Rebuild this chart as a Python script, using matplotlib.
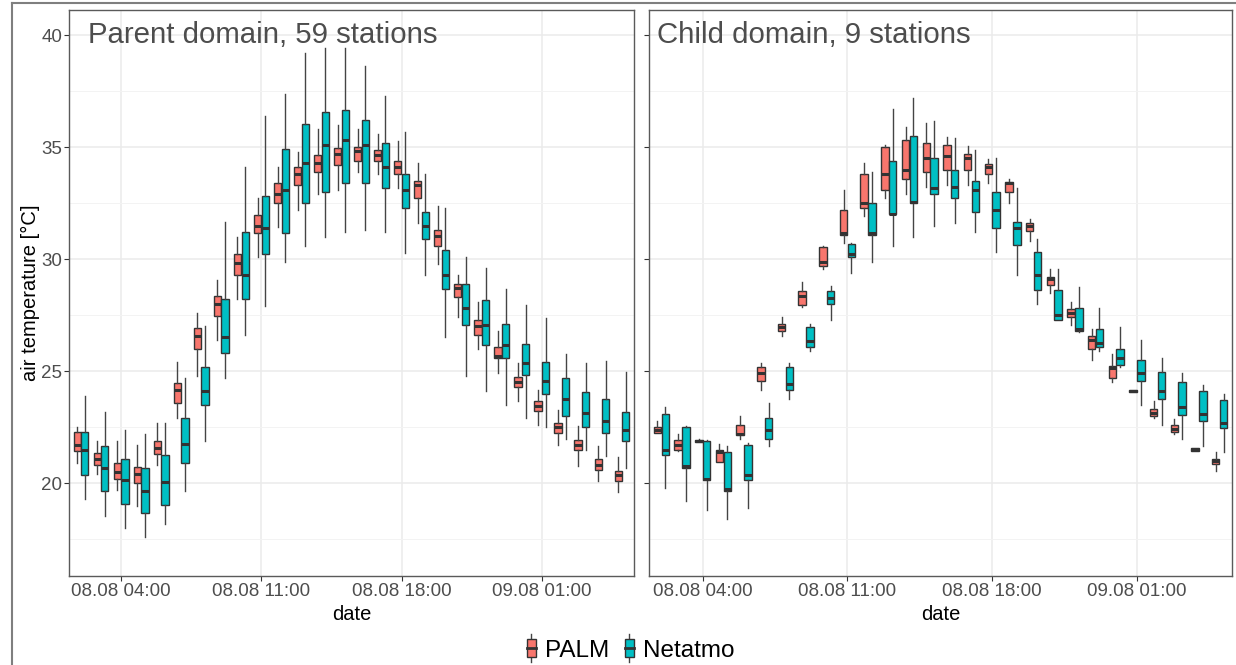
"""Hourly air temperature boxplots: PALM vs Netatmo, parent and child domain."""

import matplotlib
matplotlib.use("Agg")
import matplotlib.dates as mdates
import matplotlib.pyplot as plt
import pandas as pd
from matplotlib.legend_handler import HandlerBase
from matplotlib.lines import Line2D
from matplotlib.patches import Patch, Rectangle

plt.rcParams['font.family'] = ['Liberation Sans', 'DejaVu Sans']

# hourly time steps, 08.08 02:00 .. 09.08 05:00
times = pd.date_range('2019-08-08 02:00', periods=28, freq='h')
tick_times = pd.to_datetime(['2019-08-08 04:00', '2019-08-08 11:00',
                             '2019-08-08 18:00', '2019-08-09 01:00'])
series_names = ['PALM', 'Netatmo']
panel_titles = ['Parent domain, 59 stations', 'Child domain, 9 stations']

# (whisker low, q1, median, q3, whisker high)
parent_palm = [
    (20.91, 21.44, 21.71, 22.30, 22.50), (20.40, 20.83, 21.10, 21.34, 21.87),
    (19.68, 20.18, 20.49, 20.91, 21.87), (18.99, 20.00, 20.40, 20.73, 21.69),
    (20.80, 21.29, 21.59, 21.87, 22.70), (22.90, 23.59, 24.18, 24.48, 25.41),
    (24.78, 25.98, 26.59, 26.92, 27.61), (26.38, 27.48, 27.99, 28.36, 29.07),
    (28.21, 29.28, 29.82, 30.21, 30.99), (30.11, 31.15, 31.48, 31.99, 32.71),
    (31.44, 32.50, 32.92, 33.40, 34.10), (32.20, 33.30, 33.80, 34.10, 34.78),
    (32.90, 33.88, 34.31, 34.67, 35.79), (33.08, 34.19, 34.70, 34.98, 35.98),
    (33.91, 34.39, 34.83, 35.01, 35.79), (33.80, 34.39, 34.66, 34.86, 35.58),
    (33.19, 33.80, 34.11, 34.39, 35.26), (31.60, 32.71, 33.30, 33.48, 34.31),
    (29.79, 30.59, 31.02, 31.32, 32.39), (27.40, 28.29, 28.72, 28.88, 29.28),
    (26.01, 26.60, 27.00, 27.29, 28.09), (24.90, 25.58, 25.69, 26.09, 26.78),
    (23.67, 24.29, 24.53, 24.74, 25.37), (22.58, 23.22, 23.46, 23.67, 24.18),
    (21.71, 22.26, 22.50, 22.70, 23.27), (20.78, 21.47, 21.71, 21.95, 22.55),
    (20.08, 20.59, 20.80, 21.07, 21.66), (19.59, 20.08, 20.35, 20.56, 21.15),
]
parent_netatmo = [
    (19.31, 20.38, 21.50, 22.30, 23.89), (18.56, 19.67, 20.70, 21.66, 23.19),
    (18.01, 19.07, 20.16, 21.10, 22.39), (17.59, 18.68, 19.67, 20.69, 22.19),
    (18.20, 19.03, 20.06, 21.28, 22.70), (19.67, 20.91, 21.74, 22.90, 24.70),
    (21.87, 23.49, 24.10, 25.18, 27.00), (24.70, 25.81, 26.52, 28.20, 31.67),
    (26.60, 28.21, 29.31, 31.20, 34.11), (27.89, 30.21, 31.40, 32.84, 36.41),
    (29.89, 31.18, 33.09, 34.91, 37.38), (30.59, 32.50, 34.31, 36.01, 39.20),
    (31.00, 33.00, 35.10, 36.59, 39.41), (31.20, 33.40, 35.30, 36.65, 39.41),
    (31.31, 33.40, 35.10, 36.19, 38.61), (31.20, 33.19, 34.11, 35.18, 37.30),
    (30.29, 32.28, 33.09, 33.80, 35.69), (29.28, 30.91, 31.48, 32.10, 33.78),
    (26.52, 28.69, 29.31, 30.40, 32.28), (24.78, 27.08, 27.80, 28.88, 30.08),
    (24.10, 26.17, 27.05, 28.17, 29.60), (23.49, 25.61, 26.17, 27.10, 28.68),
    (22.90, 24.82, 25.37, 26.20, 27.97), (22.50, 23.99, 24.58, 25.42, 27.37),
    (21.99, 22.98, 23.78, 24.69, 25.77), (21.47, 22.50, 23.14, 24.05, 25.37),
    (21.20, 22.22, 22.79, 23.78, 25.45), (20.70, 21.87, 22.39, 23.17, 24.98),
]
child_palm = [
    (22.26, 22.26, 22.39, 22.50, 22.78), (21.44, 21.47, 21.71, 21.95, 22.19),
    (21.82, 21.82, 21.87, 21.95, 21.99), (20.96, 20.96, 21.39, 21.47, 21.75),
    (21.99, 22.15, 22.19, 22.58, 22.98), (24.18, 24.58, 24.90, 25.18, 25.37),
    (26.57, 26.78, 26.97, 27.10, 27.40), (27.88, 27.96, 28.36, 28.60, 28.99),
    (29.57, 29.71, 29.89, 30.53, 30.59), (30.72, 31.08, 31.16, 32.19, 33.08),
    (31.91, 32.28, 32.50, 33.80, 34.31), (32.71, 33.08, 33.80, 35.02, 35.10),
    (32.90, 33.59, 33.99, 35.30, 35.90), (33.22, 33.91, 34.50, 35.18, 36.09),
    (33.30, 33.99, 34.59, 35.10, 35.47), (33.30, 33.99, 34.50, 34.70, 35.07),
    (33.40, 33.80, 34.10, 34.23, 34.47), (32.50, 32.98, 33.38, 33.43, 33.59),
    (30.80, 31.24, 31.47, 31.60, 31.79), (28.48, 28.85, 29.12, 29.20, 29.57),
    (27.08, 27.40, 27.61, 27.77, 28.09), (25.49, 25.98, 26.38, 26.57, 26.89),
    (24.50, 24.69, 25.15, 25.22, 25.77), (24.07, 24.07, 24.13, 24.18, 24.18),
    (22.90, 22.98, 23.14, 23.30, 23.65), (22.19, 22.30, 22.42, 22.58, 22.87),
    (21.44, 21.44, 21.52, 21.58, 21.58), (20.56, 20.88, 20.99, 21.10, 21.39),
]
child_netatmo = [
    (19.79, 21.26, 21.47, 23.09, 23.38), (19.19, 20.67, 20.78, 22.50, 22.55),
    (18.79, 20.16, 20.19, 21.87, 21.95), (18.39, 19.67, 19.74, 21.39, 21.67),
    (18.88, 20.16, 20.35, 21.71, 21.79), (21.66, 21.98, 22.39, 22.90, 23.59),
    (23.78, 24.15, 24.42, 25.17, 25.37), (25.89, 26.06, 26.33, 26.97, 27.10),
    (27.29, 28.01, 28.25, 28.56, 28.80), (29.39, 30.08, 30.21, 30.67, 30.72),
    (29.89, 31.07, 31.16, 32.50, 33.88), (30.59, 32.00, 32.03, 34.39, 36.70),
    (31.00, 32.52, 32.55, 35.50, 37.21), (31.48, 32.90, 33.19, 34.50, 36.17),
    (31.60, 32.71, 33.22, 33.99, 35.39), (31.20, 32.10, 33.08, 33.48, 34.86),
    (30.32, 31.40, 32.19, 33.00, 34.50), (29.31, 30.61, 31.40, 31.64, 33.19),
    (28.01, 28.61, 29.28, 30.32, 30.88), (27.29, 27.29, 27.53, 28.61, 29.57),
    (26.73, 26.78, 26.89, 27.80, 28.77), (25.89, 26.09, 26.28, 26.89, 27.80),
    (25.18, 25.26, 25.61, 26.01, 26.97), (23.49, 24.58, 24.90, 25.49, 26.38),
    (22.58, 23.78, 24.10, 24.98, 25.58), (21.99, 23.06, 23.38, 24.50, 24.90),
    (21.67, 22.78, 23.09, 24.10, 24.39), (21.39, 22.47, 22.70, 23.70, 23.97),
]

COLORS = {'PALM': '#F8766D', 'Netatmo': '#00BFC4'}
EDGE = '#333333'
HOUR = 1 / 24
W, H = 1236, 665


def _stats(rows):
    return [dict(whislo=r[0], q1=r[1], med=r[2], q3=r[3], whishi=r[4], fliers=[])
            for r in rows]


def draw_panel(ax, palm, netatmo, title, title_x, show_labels):
    pos = mdates.date2num(times)
    for rows, name, shift in [(palm, 'PALM', -0.19), (netatmo, 'Netatmo', 0.19)]:
        ax.bxp(_stats(rows), positions=pos + shift * HOUR, widths=0.36 * HOUR,
               patch_artist=True, showcaps=False, manage_ticks=False,
               boxprops=dict(facecolor=COLORS[name], edgecolor=EDGE, linewidth=1.0),
               medianprops=dict(color=EDGE, linewidth=2.2, solid_capstyle='butt'),
               whiskerprops=dict(color='#444444', linewidth=1.0))

    ax.set_xlim(pos[0] - 0.6 * HOUR, pos[-1] + 0.6 * HOUR)
    ax.set_ylim(15.86, 41.12)
    ax.set_xticks(mdates.date2num(tick_times))
    ax.xaxis.set_major_formatter(mdates.DateFormatter('%d.%m %H:%M'))
    ax.set_yticks([20, 25, 30, 35, 40])
    ax.set_yticks([17.5, 22.5, 27.5, 32.5, 37.5], minor=True)
    ax.grid(which='major', color='#EBEBEB', linewidth=1.1)
    ax.grid(which='minor', axis='y', color='#F3F3F3', linewidth=0.7)
    ax.set_axisbelow(True)
    ax.tick_params(which='major', length=3.5, width=0.8, color='#333333',
                   labelsize=13.5, labelcolor='#4D4D4D', pad=1.5)
    ax.tick_params(which='minor', length=0)
    if not show_labels:
        ax.tick_params(axis='y', labelleft=False)
    for sp in ax.spines.values():
        sp.set_color('#5A5A5A')
        sp.set_linewidth(1.0)

    ax.set_xlabel('date', fontsize=14.5, color='black')
    ax.xaxis.set_label_coords(0.5, -0.052)
    ax.text(title_x, 0.9422, title, transform=ax.transAxes, fontsize=21.2,
            color='#4D4D4D', va='baseline', ha='left')


class BoxKey(HandlerBase):
    def create_artists(self, legend, orig_handle, xdescent, ydescent,
                       width, height, fontsize, trans):
        cx = -xdescent + width / 2
        y0 = -ydescent
        bw = width * 0.85
        whisker = Line2D([cx, cx], [y0 - 0.3 * height, y0 + 1.3 * height],
                         color='#444444', lw=1.0, transform=trans)
        box = Rectangle((cx - bw / 2, y0), bw, height,
                        facecolor=orig_handle.get_facecolor(), edgecolor=EDGE,
                        lw=1.0, transform=trans)
        med = Line2D([cx - bw / 2, cx + bw / 2], [y0 + height / 2] * 2,
                     color=EDGE, lw=2.0, transform=trans)
        return [whisker, box, med]


fig = plt.figure(figsize=(W / 100, H / 100), dpi=100)


def px_axes(x0, y0, x1, y1):
    return fig.add_axes([x0 / W, 1 - y1 / H, (x1 - x0) / W, (y1 - y0) / H])


ax_l = px_axes(69, 10, 634, 576)
ax_r = px_axes(649, 10, 1232, 576)

draw_panel(ax_l, parent_palm, parent_netatmo, panel_titles[0], 0.034, True)
draw_panel(ax_r, child_palm, child_netatmo, panel_titles[1], 0.014, False)

ax_l.set_ylabel('air temperature [°C]', fontsize=14.5, color='black')
ax_l.yaxis.set_label_coords(-0.052, 0.5)

handles = [Patch(facecolor=COLORS[n], edgecolor=EDGE) for n in series_names]
fig.legend(handles, series_names, loc='center', bbox_to_anchor=(0.51, 0.022),
           ncol=2, frameon=False, fontsize=17.5, handlelength=0.45,
           handleheight=0.75, handletextpad=0.35, columnspacing=0.6,
           handler_map={Patch: BoxKey()})

# outer frame of the original figure (top and left edges visible)
fig.add_artist(Line2D([12 / W, 1], [1 - 3 / H, 1 - 3 / H], color='#7F7F7F',
                      lw=1.5, transform=fig.transFigure))
fig.add_artist(Line2D([12 / W, 12 / W], [0, 1 - 3 / H], color='#7F7F7F',
                      lw=1.5, transform=fig.transFigure))

fig.savefig('out.png', dpi=100)
